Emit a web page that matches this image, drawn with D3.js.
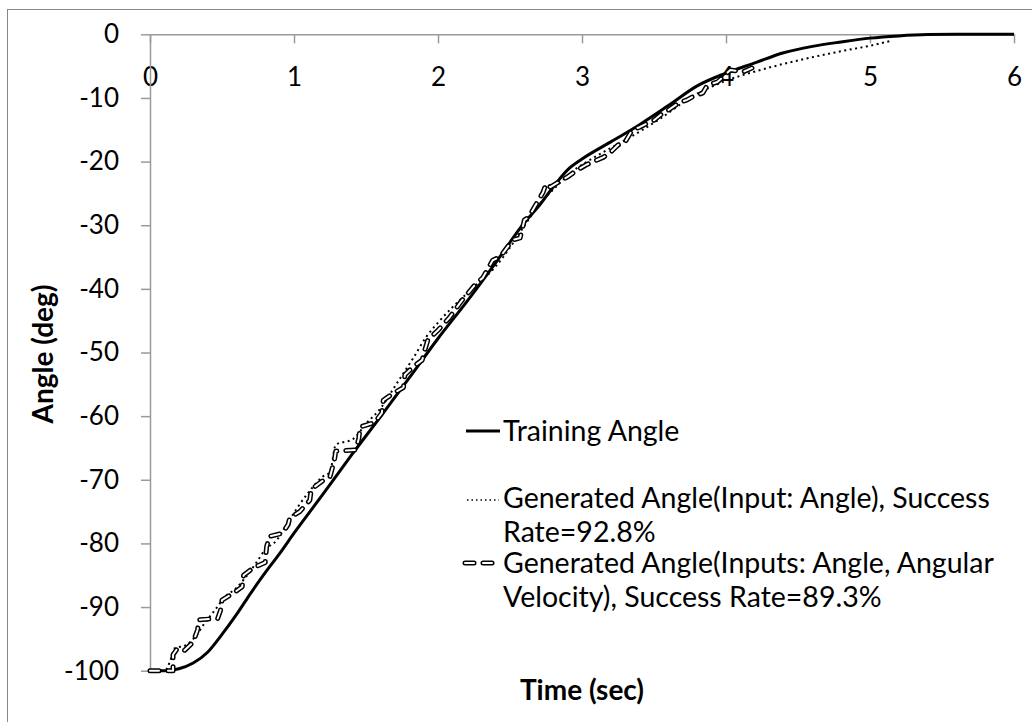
<!DOCTYPE html>
<html>
<head>
<meta charset="utf-8">
<script src="https://cdn.jsdelivr.net/npm/d3@7"></script>
<style>
  html, body { margin: 0; padding: 0; background: #fff; }
  svg { display: block; }
  text { font-family: Lato, "Open Sans", sans-serif; fill: #000; }
</style>
</head>
<body>
<svg id="chart" width="1032" height="722"></svg>
<script>
// ---------- data ----------
const xTickValues = [0, 1, 2, 3, 4, 5, 6];
const yTickValues = [0, -10, -20, -30, -40, -50, -60, -70, -80, -90, -100];

const trainTime  = [0, 0.1, 0.2, 0.3, 0.4, 0.5, 0.6, 0.7, 0.8, 0.9, 1.0, 1.2, 1.4, 1.6, 1.8, 2.0, 2.2, 2.4, 2.6, 2.7, 2.8, 2.9, 3.0, 3.2, 3.4, 3.6, 3.8, 4.0, 4.2, 4.4, 4.6, 4.8, 5.0, 5.2, 5.4, 5.6, 6.0];
const trainAngle = [-100, -100, -99.7, -98.8, -97.1, -94.3, -91.2, -87.8, -84.6, -81.6, -78.4, -72.3, -66.1, -60.1, -54.0, -47.8, -42.0, -35.9, -29.6, -27.0, -24.0, -21.3, -19.6, -16.9, -14.2, -11.2, -8.1, -6.1, -4.5, -2.9, -1.9, -1.2, -0.6, -0.25, -0.05, 0, 0];

const dotTime  = [0, 0.1, 0.14, 0.17, 0.25, 0.32, 0.38, 0.45, 0.52, 0.6, 0.65, 0.73, 0.8, 0.88, 0.95, 1.02, 1.1, 1.2, 1.25, 1.29, 1.41, 1.5, 1.6, 1.71, 1.83, 1.92, 2.0, 2.1, 2.25, 2.4, 2.5, 2.62, 2.73, 2.8, 2.92, 3.08, 3.31, 3.54, 3.77, 4.0, 4.24, 4.56, 4.79, 5.02, 5.15];
const dotAngle = [-100, -100, -98.5, -96.5, -96.0, -94.5, -92.5, -90.5, -88.4, -87.0, -85.7, -83.3, -81.0, -79.5, -77.0, -74.5, -72.0, -69.5, -68.8, -64.5, -63.6, -61.2, -58.8, -55.0, -50.8, -47.5, -45.3, -42.9, -39.7, -36.5, -33.5, -29.4, -26.0, -24.4, -21.8, -19.4, -16.5, -13.3, -9.7, -7.3, -5.6, -3.8, -2.7, -1.7, -1.0];

const dashTime  = [0, 0.16, 0.16, 0.19, 0.24, 0.30, 0.33, 0.34, 0.47, 0.49, 0.50, 0.58, 0.64, 0.65, 0.72, 0.80, 0.81, 0.83, 0.92, 0.96, 0.97, 1.04, 1.11, 1.12, 1.19, 1.25, 1.28, 1.29, 1.43, 1.45, 1.46, 1.56, 1.61, 1.62, 1.69, 1.76, 1.77, 1.83, 1.89, 1.91, 1.93, 2.0, 2.08, 2.16, 2.27, 2.31, 2.38, 2.43, 2.52, 2.57, 2.60, 2.63, 2.73, 2.75, 2.78, 2.90, 2.97, 3.03, 3.08, 3.15, 3.20, 3.25, 3.30, 3.35, 3.40, 3.45, 3.50, 3.56, 3.60, 3.67, 3.73, 3.77, 3.84, 3.87, 3.94, 3.98, 4.03, 4.12, 4.18];
const dashAngle = [-100, -100, -97.5, -96.5, -96.8, -95.5, -93.6, -92.0, -91.8, -90.5, -88.9, -87.8, -86.8, -85.0, -83.8, -83.0, -80.5, -78.9, -78.4, -77.0, -76.0, -75.0, -73.2, -71.5, -70.3, -69.5, -67.0, -65.5, -65.3, -63.5, -61.7, -61.0, -59.5, -57.5, -56.4, -55.5, -53.5, -52.2, -51.2, -49.5, -48.0, -46.5, -44.5, -42.0, -39.0, -38.3, -35.5, -35.0, -32.3, -32.0, -29.2, -28.7, -24.8, -23.5, -24.0, -22.4, -21.3, -20.5, -20.0, -19.3, -18.5, -17.4, -16.9, -15.0, -14.6, -14.0, -13.5, -12.4, -11.9, -10.8, -10.3, -9.8, -9.2, -8.0, -7.5, -6.7, -5.6, -5.9, -5.3];

const seriesNames = [
  ["Training Angle"],
  ["Generated Angle(Input: Angle), Success", "Rate=92.8%"],
  ["Generated Angle(Inputs: Angle, Angular", "Velocity), Success Rate=89.3%"]
];

// ---------- drawing ----------
const svg = d3.select("#chart");
const axisColor = "#9a9a9a";

// chart area border (only top/left visible in the window)
svg.append("rect")
  .attr("x", 7.5).attr("y", 9.5)
  .attr("width", 1040).attr("height", 730)
  .attr("fill", "none").attr("stroke", "#888").attr("stroke-width", 1);

const x = d3.scaleLinear().domain([0, 6]).range([150, 1014]);
const y = d3.scaleLinear().domain([0, -100]).range([34.3, 670.7]);

// x axis (at value 0, top)
const gx = svg.append("g")
  .attr("transform", `translate(0,${y(0)})`)
  .call(d3.axisBottom(x).tickValues(xTickValues).tickSize(9).tickSizeOuter(0).tickFormat(d => String(d)));
gx.select(".domain").attr("stroke", axisColor).attr("stroke-width", 1.5);
gx.selectAll(".tick line").attr("stroke", axisColor).attr("stroke-width", 1.5);
gx.selectAll(".tick text")
  .attr("y", 33).attr("dy", "0.71em")
  .style("font-family", "Lato, 'Open Sans', sans-serif")
  .style("font-size", "26px").attr("fill", "#000");

// y axis
const gy = svg.append("g")
  .attr("transform", `translate(${x(0)},0)`)
  .call(d3.axisLeft(y).tickValues(yTickValues).tickSize(9).tickSizeOuter(0).tickPadding(22).tickFormat(d => String(d)));
gy.select(".domain").attr("stroke", axisColor).attr("stroke-width", 1.5);
gy.selectAll(".tick line").attr("stroke", axisColor).attr("stroke-width", 1.5);
gy.selectAll(".tick text")
  .style("font-family", "Lato, 'Open Sans', sans-serif")
  .style("font-size", "26px").attr("fill", "#000");

// axis titles
svg.append("text")
  .attr("x", 582).attr("y", 700)
  .attr("text-anchor", "middle")
  .style("font-size", "28px").style("font-weight", "bold")
  .text("Time (sec)");
svg.append("text")
  .attr("transform", "translate(53,354) rotate(-90)")
  .attr("text-anchor", "middle")
  .style("font-size", "28px").style("font-weight", "bold")
  .text("Angle (deg)");

// series
const trainPts = trainTime.map((t, i) => [t, trainAngle[i]]);
const dotPts = dotTime.map((t, i) => [t, dotAngle[i]]);
const dashPts = dashTime.map((t, i) => [t, dashAngle[i]]);

const smooth = d3.line().x(d => x(d[0])).y(d => y(d[1])).curve(d3.curveMonotoneX);
const straight = d3.line().x(d => x(d[0])).y(d => y(d[1]));

svg.append("path").attr("d", smooth(trainPts))
  .attr("fill", "none").attr("stroke", "#000").attr("stroke-width", 3)
  .attr("stroke-linejoin", "round");

svg.append("path").attr("d", smooth(dotPts))
  .attr("fill", "none").attr("stroke", "#000").attr("stroke-width", 2)
  .attr("stroke-dasharray", "2,3.5");

function hollowDash(sel, d) {
  sel.append("path").attr("d", d)
    .attr("fill", "none").attr("stroke", "#000").attr("stroke-width", 5)
    .attr("stroke-linecap", "round").attr("stroke-linejoin", "round")
    .attr("stroke-dasharray", "9,9");
  sel.append("path").attr("d", d)
    .attr("fill", "none").attr("stroke", "#fff").attr("stroke-width", 2)
    .attr("stroke-linecap", "round").attr("stroke-linejoin", "round")
    .attr("stroke-dasharray", "9,9");
}
hollowDash(svg.append("g"), straight(dashPts));

// legend
const lg = svg.append("g");
const legendRows = [
  { y: 431, kind: "solid" },
  { y: 498, kind: "dot" },
  { y: 563, kind: "dash" }
];
legendRows.forEach((r, i) => {
  if (r.kind === "solid") {
    lg.append("line").attr("x1", 466).attr("x2", 500).attr("y1", r.y).attr("y2", r.y)
      .attr("stroke", "#000").attr("stroke-width", 3);
  } else if (r.kind === "dot") {
    lg.append("line").attr("x1", 467).attr("x2", 499).attr("y1", r.y + 2).attr("y2", r.y + 2)
      .attr("stroke", "#000").attr("stroke-width", 1.5).attr("stroke-dasharray", "1.5,3");
  } else {
    const d = `M465,${r.y}L499,${r.y}`;
    const g = lg.append("g");
    g.append("path").attr("d", d).attr("stroke", "#000").attr("stroke-width", 5)
      .attr("stroke-linecap", "round").attr("stroke-dasharray", "9,9");
    g.append("path").attr("d", d).attr("stroke", "#fff").attr("stroke-width", 2)
      .attr("stroke-linecap", "round").attr("stroke-linejoin", "round").attr("stroke-dasharray", "9,9");
  }
  seriesNames[i].forEach((line, j) => {
    lg.append("text")
      .attr("x", 503).attr("y", r.y + j * 34)
      .attr("dy", "0.35em")
      .style("font-size", "28.5px")
      .text(line);
  });
});
</script>
</body>
</html>
